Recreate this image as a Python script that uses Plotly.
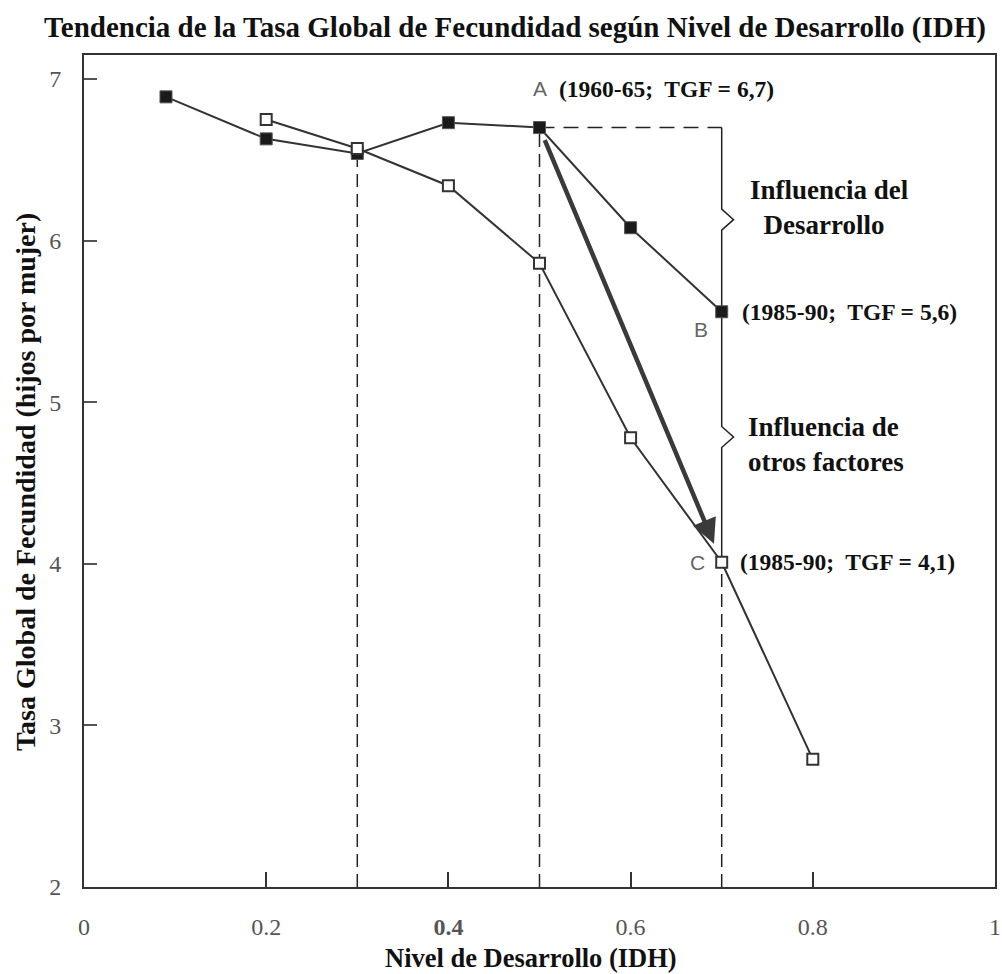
import plotly.graph_objects as go

# ---------------- data ----------------
idh_1960 = [0.09, 0.2, 0.3, 0.4, 0.5, 0.6, 0.7]
tgf_1960 = [6.89, 6.63, 6.54, 6.73, 6.70, 6.08, 5.56]

idh_1985 = [0.2, 0.3, 0.4, 0.5, 0.6, 0.7, 0.8]
tgf_1985 = [6.75, 6.57, 6.34, 5.86, 4.78, 4.01, 2.79]

x_tick_vals = [0, 0.2, 0.4, 0.6, 0.8, 1]
x_tick_text = ["0", "0.2", "<b>0.4</b>", "0.6", "0.8", "1"]
y_tick_vals = [2, 3, 4, 5, 6, 7]

label_A = "(1960-65;  TGF = 6,7)"
label_B = "(1985-90;  TGF = 5,6)"
label_C = "(1985-90;  TGF = 4,1)"
brace_top_text = "Influencia del<br>  Desarrollo"
brace_bot_text = "Influencia de<br>otros factores"

title_text = "Tendencia de la Tasa Global de Fecundidad según Nivel de Desarrollo (IDH)"
x_title = "Nivel de Desarrollo (IDH)"
y_title = "Tasa Global de Fecundidad (hijos por mujer)"

# ---------------- layout constants ----------------
W, H = 1002, 974
ML, MR, MT, MB = 84, 7, 55, 87
x_range = [0, 1]
y_range = [2, 7.149]
SERIF = "Liberation Serif, Times New Roman, serif"
SANS = "Liberation Sans, Arial, sans-serif"
LINE = "#333333"

# key points
iA = 4
iB = 6
iC = 5
Ax, Ay = idh_1960[iA], tgf_1960[iA]
Bx, By = idh_1960[iB], tgf_1960[iB]
Cx, Cy = idh_1985[iC], tgf_1985[iC]
y0 = y_range[0]

fig = go.Figure()

dash = "13px,7px"
# dashed guide verticals
for xv, yv in [(idh_1960[2], tgf_1960[2]), (Ax, Ay), (Cx, Cy)]:
    fig.add_trace(go.Scatter(x=[xv, xv], y=[y0, yv], mode="lines",
                             line=dict(color="#222", width=1.5, dash=dash),
                             hoverinfo="skip", showlegend=False))
# dashed horizontal from A to the right column
fig.add_trace(go.Scatter(x=[Ax, Bx], y=[Ay, Ay], mode="lines",
                         line=dict(color="#222", width=1.5, dash="15px,9px"),
                         hoverinfo="skip", showlegend=False))

# solid vertical with braces
bw = 0.013   # brace bump width (x units)
bh = 0.065   # brace half height (y units)
m1 = (Ay + By) / 2
m2 = (By + Cy) / 2
bx = [Bx, Bx, Bx + bw, Bx, Bx, Bx, Bx + bw, Bx, Bx]
by = [Ay, m1 + bh, m1, m1 - bh, By, m2 + bh, m2, m2 - bh, Cy]
fig.add_trace(go.Scatter(x=bx, y=by, mode="lines",
                         line=dict(color="#222", width=1.5),
                         hoverinfo="skip", showlegend=False))

# series
fig.add_trace(go.Scatter(x=idh_1960, y=tgf_1960, mode="lines+markers",
                         line=dict(color=LINE, width=2),
                         marker=dict(symbol="square", size=12, color="#1a1a1a",
                                     line=dict(color="#555", width=1)),
                         showlegend=False, name="1960-65"))
fig.add_trace(go.Scatter(x=idh_1985, y=tgf_1985, mode="lines+markers",
                         line=dict(color=LINE, width=2),
                         marker=dict(symbol="square", size=11, color="white",
                                     line=dict(color="#333", width=2)),
                         showlegend=False, name="1985-90"))

ann = []
# arrow A -> C
ann.append(dict(x=Cx, y=Cy, ax=Ax, ay=Ay, xref="x", yref="y", axref="x", ayref="y",
                showarrow=True, arrowhead=2, arrowsize=1.1, arrowwidth=4.5,
                arrowcolor="#3a3a3a", standoff=20, startstandoff=12, text=""))

# letter labels
ann.append(dict(x=Ax, y=Ay, xref="x", yref="y", text="A", showarrow=False,
                yshift=39, font=dict(family=SANS, size=21, color="#666")))
ann.append(dict(x=Bx, y=By, xref="x", yref="y", text="B", showarrow=False,
                xshift=-21, yshift=-18, font=dict(family=SANS, size=21, color="#666")))
ann.append(dict(x=Cx, y=Cy, xref="x", yref="y", text="C", showarrow=False,
                xshift=-24, font=dict(family=SANS, size=21, color="#666")))
# value labels
ann.append(dict(x=Ax, y=Ay, xref="x", yref="y", text="<b>" + label_A + "</b>", showarrow=False,
                xanchor="left", xshift=17, yshift=39, font=dict(family=SERIF, size=23.5, color="#111")))
ann.append(dict(x=Bx, y=By, xref="x", yref="y", text="<b>" + label_B + "</b>", showarrow=False,
                xanchor="left", xshift=18, font=dict(family=SERIF, size=23.5, color="#111")))
ann.append(dict(x=Cx, y=Cy, xref="x", yref="y", text="<b>" + label_C + "</b>", showarrow=False,
                xanchor="left", xshift=16, font=dict(family=SERIF, size=23.5, color="#111")))
# brace texts
ann.append(dict(x=Bx, y=m1, xref="x", yref="y", text="<b>" + brace_top_text + "</b>", showarrow=False,
                xanchor="left", align="left", xshift=26, yshift=12,
                font=dict(family=SERIF, size=27, color="#111")))
ann.append(dict(x=Bx, y=m2, xref="x", yref="y", text="<b>" + brace_bot_text + "</b>", showarrow=False,
                xanchor="left", align="left", xshift=24, yshift=-8,
                font=dict(family=SERIF, size=27, color="#111")))

# axis titles
ann.append(dict(x=(531 - ML) / (W - ML - MR), y=0, xref="paper", yref="paper",
                text="<b>" + x_title + "</b>", showarrow=False, yshift=-71,
                yanchor="middle", font=dict(family=SERIF, size=26.5, color="#111")))
ann.append(dict(x=0, y=(H - MB - 482) / (H - MT - MB), xref="paper", yref="paper",
                text="<b>" + y_title + "</b>", showarrow=False, textangle=-90,
                xshift=-59, xanchor="center", yanchor="middle",
                font=dict(family=SERIF, size=28, color="#111")))

fig.update_layout(
    width=W, height=H,
    margin=dict(l=ML, r=MR, t=MT, b=MB, autoexpand=False),
    paper_bgcolor="white", plot_bgcolor="white",
    title=dict(text="<b>" + title_text + "</b>", x=515 / W, xanchor="center",
               y=1 - 27 / H, yanchor="middle", yref="container", xref="container",
               font=dict(family=SERIF, size=29, color="#111")),
    annotations=ann,
    xaxis=dict(range=x_range, tickvals=x_tick_vals, ticktext=x_tick_text,
               ticks="inside", ticklen=15, tickwidth=2, tickcolor="#333",
               showline=True, mirror=True, linecolor="#333", linewidth=2,
               showgrid=False, zeroline=False, ticklabelstandoff=17,
               tickfont=dict(family=SERIF, size=24, color="#555")),
    yaxis=dict(range=y_range, tickvals=y_tick_vals,
               ticks="inside", ticklen=13, tickwidth=2, tickcolor="#555",
               showline=True, mirror=True, linecolor="#333", linewidth=2,
               showgrid=False, zeroline=False, ticklabelstandoff=16,
               tickfont=dict(family=SERIF, size=24, color="#555")),
)

fig.write_html("out.html", config={"displayModeBar": False},
               post_script="document.body.style.margin='0';document.body.style.padding='0';")
